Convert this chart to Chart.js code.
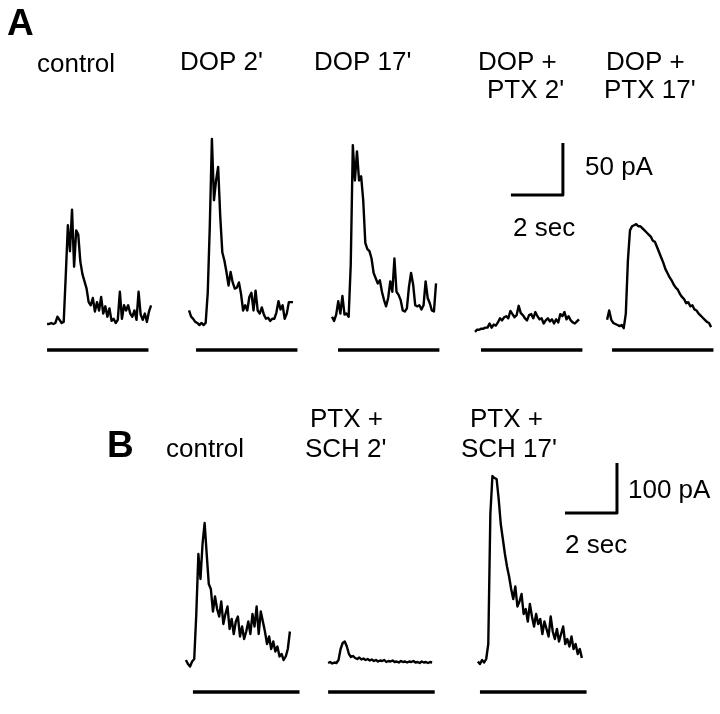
<!DOCTYPE html>
<html>
<head>
<meta charset="utf-8">
<script src="https://cdn.jsdelivr.net/npm/chart.js@4.4.1/dist/chart.umd.min.js"></script>
<style>
  html, body { margin: 0; padding: 0; background: #fff; }
  #fig { display: block; }
</style>
</head>
<body>
<canvas id="fig" width="720" height="714"></canvas>
<script>
// sampling interval of every trace (s)
const SAMPLE_DT = 0.08;

// panel A currents (pA, inward plotted upward)
const controlA = [0, 0, 1, 0, 1, 7, 4, 1, 2, 47, 95, 70, 110, 55, 90, 86, 60, 48, 41, 34,
  21, 18, 25, 12, 21, 13, 26, 10, 17, 7, 15, 3, 5, 1, 4, 31, 5, 18, 13, 18,
  10, 7, 13, 4, 31, 9, 4, 10, 2, 12, 18];
const dop2A = [13, 7, 5, 2, 1, -1, 1, -1, 1, 30, 95, 178, 119, 138, 151, 104, 69, 61, 50, 37,
  50, 40, 34, 35, 40, 29, 13, 18, 13, 26, 30, 13, 32, 13, 10, 16, 9, 5, 6, 3,
  5, 5, 11, 22, 14, 18, 5, 10, 21, 21, 21];
const dop17A = [7, 3, 9, 22, 10, 27, 9, 10, 7, 57, 172, 138, 166, 138, 142, 119, 78, 72, 70, 63,
  49, 44, 39, 42, 31, 23, 17, 25, 41, 31, 63, 31, 28, 23, 13, 12, 15, 36, 49, 38,
  18, 17, 18, 14, 18, 41, 25, 20, 13, 12, 39];
const dopPtx2A = [0, 2, 2, 3, 3, 4, 4, 8, 4, 7, 6, 9, 13, 11, 14, 15, 13, 20, 17, 14,
  16, 25, 18, 16, 13, 11, 16, 17, 13, 19, 15, 12, 13, 8, 11, 13, 10, 12, 8, 12,
  9, 17, 15, 19, 12, 15, 11, 9, 8, 10, 12];
const dopPtx17A = [5, 14, 5, 2, 1, 0, -1, 0, -3, 11, 62, 91, 95, 96, 97, 95, 95, 93, 91, 89,
  87, 85, 81, 80, 75, 70, 65, 60, 54, 50, 46, 43, 39, 36, 34, 30, 27, 25, 21, 22,
  18, 19, 15, 14, 11, 9, 7, 5, 3, 2, -2];

// panel B currents (pA)
const controlB = [8, 0, -5, 5, 10, 100, 220, 170, 240, 282, 220, 160, 150, 105, 135, 110, 95, 125, 80, 100,
  115, 70, 90, 60, 85, 95, 55, 75, 50, 65, 85, 60, 100, 75, 115, 60, 105, 85, 65, 40,
  55, 30, 45, 25, 35, 15, 20, 8, 15, 30, 65];
const ptxSch2B = [2, 4, 1, 3, 2, 8, 30, 42, 45, 35, 20, 14, 16, 12, 10, 13, 9, 11, 8, 10,
  7, 9, 6, 8, 5, 7, 6, 8, 4, 6, 5, 7, 4, 5, 3, 6, 4, 5, 3, 5,
  4, 6, 3, 4, 2, 5, 3, 4, 2, 4, 3];
const ptxSch17B = [5, 0, 8, 3, 10, 40, 300, 376, 372, 370, 330, 280, 250, 220, 195, 175, 150, 130, 155, 115,
  125, 140, 100, 110, 85, 120, 95, 75, 100, 80, 90, 60, 85, 70, 55, 95, 65, 50, 70, 45,
  60, 75, 40, 50, 35, 55, 30, 40, 20, 30, 12];

// text
const condLabelsA = ['control', "DOP 2'", "DOP 17'", 'DOP +', "PTX 2'", 'DOP +', "PTX 17'"];
const condLabelsB = ['control', 'PTX +', "SCH 2'", 'PTX +', "SCH 17'"];
const panelLetters = ['A', 'B'];

// calibration bars
const scaleBarA = { pA: 50, sec: 2 };
const scaleBarB = { pA: 100, sec: 2 };
const scaleTextA = ['50 pA', '2 sec'];
const scaleTextB = ['100 pA', '2 sec'];

// ---- layout ----
const W = 720;
const H = 714;
const PX_PER_SEC = 26;
const PANEL_A = { basePx: 324, pxPerPA: 1.04 };
const PANEL_B = { basePx: 664, pxPerPA: 0.5 };

const placeA = [
  { values: controlA, t0: 1.81, base: 0, bar: 1.81 },
  { values: dop2A, t0: 7.27, base: 0, bar: 7.54 },
  { values: dop17A, t0: 12.77, base: 0, bar: 13.0 },
  { values: dopPtx2A, t0: 18.27, base: -7.5, bar: 18.5 },
  { values: dopPtx17A, t0: 23.35, base: -1, bar: 23.54 },
];
const placeB = [
  { values: controlB, t0: 7.15, base: 0, bar: 7.42 },
  { values: ptxSch2B, t0: 12.62, base: 0, bar: 12.62 },
  { values: ptxSch17B, t0: 18.38, base: 0, bar: 18.46 },
];
const STIM_A = { dur: 3.9, level: -25 };
const STIM_B = { dur: 4.1, level: -56 };
const CORNER_A = { t: 21.65, pA: 124 };
const CORNER_B = { t: 23.73, pA: 302 };

const FONT = '"Liberation Sans", Arial, Helvetica, sans-serif';
const textLayout = [
  // [text, x, baseline, bold]
  [panelLetters[0], 7, 35, true],
  [condLabelsA[0], 37, 72],
  [condLabelsA[1], 180, 70],
  [condLabelsA[2], 314, 70],
  [condLabelsA[3], 478, 70],
  [condLabelsA[4], 487, 98],
  [condLabelsA[5], 606, 70],
  [condLabelsA[6], 604, 98],
  [scaleTextA[0], 585, 175],
  [scaleTextA[1], 513, 236],
  [panelLetters[1], 107, 457, true],
  [condLabelsB[0], 166, 457],
  [condLabelsB[1], 310, 427],
  [condLabelsB[2], 305, 457],
  [condLabelsB[3], 470, 427],
  [condLabelsB[4], 461, 457],
  [scaleTextB[0], 628, 498],
  [scaleTextB[1], 565, 553],
];

function yRange(panel) {
  return {
    min: -(H - panel.basePx) / panel.pxPerPA,
    max: panel.basePx / panel.pxPerPA,
  };
}

function lineSet(points, yAxisID, width) {
  return {
    data: points,
    yAxisID,
    showLine: true,
    borderColor: '#000',
    borderWidth: width,
    pointRadius: 0,
    tension: 0,
    fill: false,
    borderCapStyle: 'butt',
    borderJoinStyle: 'round',
  };
}

function traceSet(p, yAxisID) {
  const pts = p.values.map((v, i) => ({ x: p.t0 + i * SAMPLE_DT, y: p.base + v }));
  return lineSet(pts, yAxisID, 2.4);
}

function stimSet(p, stim, yAxisID) {
  return lineSet([{ x: p.bar, y: stim.level }, { x: p.bar + stim.dur, y: stim.level }], yAxisID, 3.5);
}

function scaleSet(corner, bar, yAxisID) {
  return lineSet([
    { x: corner.t - bar.sec, y: corner.pA },
    { x: corner.t, y: corner.pA },
    { x: corner.t, y: corner.pA + bar.pA },
  ], yAxisID, 3);
}

const datasets = [
  ...placeA.map((p) => traceSet(p, 'yA')),
  ...placeA.map((p) => stimSet(p, STIM_A, 'yA')),
  scaleSet(CORNER_A, scaleBarA, 'yA'),
  ...placeB.map((p) => traceSet(p, 'yB')),
  ...placeB.map((p) => stimSet(p, STIM_B, 'yB')),
  scaleSet(CORNER_B, scaleBarB, 'yB'),
];

const labelPlugin = {
  id: 'figLabels',
  afterDraw(chart) {
    const { ctx } = chart;
    ctx.save();
    ctx.fillStyle = '#000';
    ctx.textBaseline = 'alphabetic';
    ctx.textAlign = 'left';
    textLayout.forEach(([txt, x, y, bold]) => {
      ctx.font = bold ? `bold 37px ${FONT}` : `26px ${FONT}`;
      ctx.fillText(txt, x, y);
    });
    ctx.restore();
  },
};

new Chart(document.getElementById('fig'), {
  type: 'scatter',
  data: { datasets },
  options: {
    responsive: false,
    animation: false,
    devicePixelRatio: 1,
    layout: { padding: 0 },
    plugins: { legend: { display: false }, tooltip: { enabled: false } },
    events: [],
    scales: {
      x: { type: 'linear', display: false, min: 0, max: W / PX_PER_SEC },
      yA: { type: 'linear', display: false, ...yRange(PANEL_A) },
      yB: { type: 'linear', display: false, ...yRange(PANEL_B) },
    },
  },
  plugins: [labelPlugin],
});
</script>
</body>
</html>
